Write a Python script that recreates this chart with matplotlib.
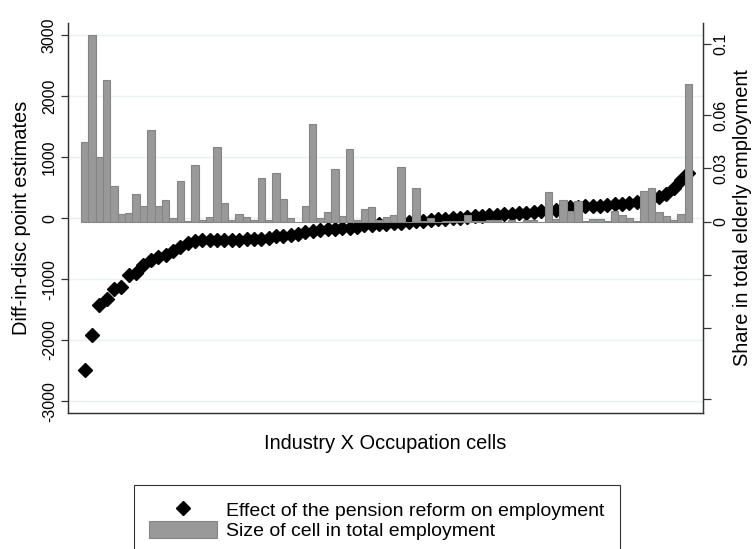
import numpy as np
import matplotlib.pyplot as plt
from matplotlib.lines import Line2D
from matplotlib.patches import Patch

plt.rcParams['font.family'] = ['Liberation Sans', 'DejaVu Sans']
plt.rcParams['axes.unicode_minus'] = False

# diff-in-disc point estimates, one per industry x occupation cell (sorted)
effect = [-2487, -1913, -1421, -1328, -1164, -1121, -930, -902, -765, -684,
          -645, -601, -536, -481, -410, -372, -365, -362, -360, -358,
          -356, -354, -350, -345, -335, -318, -300, -290, -278, -262,
          -225, -210, -200, -185, -175, -168, -160, -150, -120, -105,
          -95, -90, -85, -78, -70, -50, -40, -32, -15, -8,
          0, 5, 20, 30, 40, 50, 55, 62, 70, 78,
          85, 95, 110, 125, 135, 160, 180, 190, 195, 200,
          205, 212, 225, 240, 255, 270, 300, 320, 340, 390,
          500, 620, 735]

# share of the cell in total elderly employment
share = [0.045, 0.105, 0.0364, 0.0795, 0.020, 0.0045, 0.0049, 0.0158, 0.0086, 0.0514,
         0.0086, 0.0122, 0.0019, 0.023, 0.0005, 0.0317, 0.001, 0.0028, 0.042, 0.0107,
         0.001, 0.0041, 0.0026, 0.001, 0.0244, 0.001, 0.0272, 0.013, 0.0023, 0.0,
         0.0088, 0.0552, 0.0023, 0.0053, 0.0298, 0.003, 0.041, 0.001, 0.0073, 0.0084,
         0.001, 0.0028, 0.0036, 0.031, 0.0, 0.0191, 0.0004, 0.0019, 0.0, 0.0004,
         0.0004, 0.0004, 0.0036, 0.0004, 0.0004, 0.001, 0.0008, 0.0, 0.0008, 0.0,
         0.0008, 0.0008, 0.0, 0.0165, 0.0013, 0.0124, 0.006, 0.0118, 0.0003, 0.0016,
         0.0015, 0.0002, 0.0062, 0.004, 0.002, 0.0005, 0.017, 0.0188, 0.0056, 0.0032,
         0.001, 0.0043, 0.0773]

cells = np.arange(1, len(effect) + 1)

left_ticks = [-3000, -2000, -1000, 0, 1000, 2000, 3000]
right_ticks = [-0.1, -0.06, -0.03, 0, 0.03, 0.06, 0.1]
right_labels = ['', '', '', '0', '0.03', '0.06', '0.1']

fig = plt.figure(figsize=(7.56, 5.49), dpi=100)
ax = fig.add_axes([68/756, 1-413/549, 635/756, 390/549])
ax2 = ax.twinx()

# diamonds (left axis)
ax.plot(cells, effect, linestyle='none', marker='D', markersize=7.5,
        color='black', zorder=2)
ax.set_ylim(-3195, 3200)
ax.set_xlim(-1.25, 85.0)
ax.set_yticks(left_ticks)
ax.yaxis.grid(True, color='#eaf1f3', linewidth=1.0)
ax.set_axisbelow(True)
ax.set_xticks([])
ax.tick_params(axis='y', direction='out', length=5, width=0.9, color='#333333',
               labelsize=11.5, pad=3)
for lbl in ax.get_yticklabels():
    lbl.set_rotation(90)
    lbl.set_va('center')

ax.set_xlabel('Industry X Occupation cells', fontsize=14.4, labelpad=15)
ax.set_ylabel('Diff-in-disc point estimates', fontsize=14.4)
ax.yaxis.set_label_coords(-0.058, 0.5)

# bars (right axis)
ax2.bar(cells, share, width=1.0, color='#999999', edgecolor='#858585',
        linewidth=0.8, zorder=3)
ax2.set_ylim(-0.1077, 0.1118)
ax2.set_yticks(right_ticks)
ax2.set_yticklabels(right_labels)
ax2.tick_params(axis='y', direction='out', length=5.5, width=0.9, color='#333333',
                labelsize=11.5, pad=2)
for lbl in ax2.get_yticklabels():
    lbl.set_rotation(90)
    lbl.set_va('center')
ax2.set_ylabel('Share in total elderly employment', fontsize=14.4)
ax2.yaxis.set_label_coords(1.048, 0.5)

for a in (ax, ax2):
    a.spines['top'].set_visible(False)
    for s in ('left', 'right', 'bottom'):
        a.spines[s].set_color('#333333')
        a.spines[s].set_linewidth(0.9)

handles = [Line2D([], [], linestyle='none', marker='D', markersize=7.5, color='black'),
           Patch(facecolor='#999999', edgecolor='#858585', linewidth=0.8)]
labels = ['Effect of the pension reform on employment',
          'Size of cell in total employment']
leg = fig.legend(handles, labels, loc='upper center',
                 bbox_to_anchor=(377/756, 1-485/549), fontsize=14,
                 frameon=True, fancybox=False, edgecolor='black',
                 handlelength=3.5, handleheight=1.0, handletextpad=0.45,
                 labelspacing=0.05, borderpad=0.8, borderaxespad=0)
leg.get_frame().set_linewidth(0.8)

fig.savefig('out.png', dpi=100)
